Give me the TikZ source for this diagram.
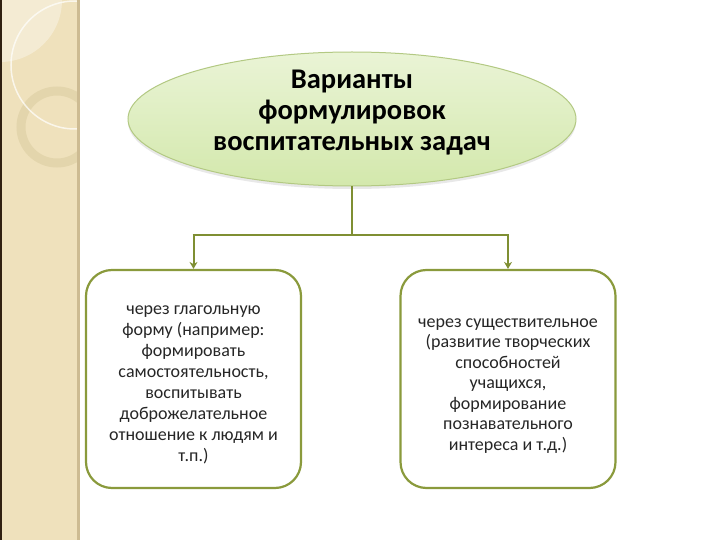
\documentclass[tikz,border=0pt]{standalone}
\usepackage{fontspec}
\setmainfont{Carlito}
\usetikzlibrary{shapes.geometric,arrows.meta,shadows}
\definecolor{strip}{HTML}{EFE1BC}
\definecolor{stripedge}{HTML}{CDBB92}
\definecolor{ringc}{HTML}{E3D5AC}
\definecolor{olive}{HTML}{8A9A3C}
\definecolor{linec}{HTML}{7F8F33}
\definecolor{elltop}{HTML}{EAF4D6}
\definecolor{ellbot}{HTML}{D3E8AC}
\definecolor{ellline}{HTML}{B3C983}
\definecolor{bodytext}{HTML}{262626}
\tikzset{
  titlenode/.style={ellipse, draw=ellline, line width=1pt, top color=elltop, bottom color=ellbot,
    minimum width=448pt, minimum height=134pt, inner sep=0pt,
    drop shadow={opacity=0.18, shadow xshift=0pt, shadow yshift=-3pt}},
  titletext/.style={align=center, inner sep=0pt, font=\fontsize{28.5}{31}\selectfont\bfseries},
  itembox/.style={rectangle, rounded corners=26pt, draw=olive, line width=2.2pt, fill=white,
    minimum width=215pt, minimum height=218pt, inner sep=0pt},
  itemtext/.style={align=center, inner sep=0pt, text=bodytext, font=\fontsize{18}{21}\selectfont},
  conn/.style={draw=linec, line width=2pt},
  arr/.style={conn, -{Stealth[length=7pt,width=8pt]}}
}
\begin{document}
\begin{tikzpicture}[x=1pt,y=-1pt]
\useasboundingbox (0,0) rectangle (720,540);
% left decorative strip
\fill[white] (0,0) rectangle (720,540);
\begin{scope}
\clip (0,0) rectangle (78,540);
\fill[strip] (0,0) rectangle (78,540);
\fill[white, opacity=0.35] (0,0) circle (62);
\draw[ringc, line width=9pt] (57,127) circle (36);
\draw[white, opacity=0.7, line width=1.5pt] (75,65) circle (64);
\end{scope}
\fill[stripedge] (77,0) rectangle (79.5,540);
\fill[black!75!brown] (0,0) rectangle (2,540);
% nodes
\node[titlenode] (top) at (352,119) {};
\node[titletext] (toptext) at (352,113) {Варианты\\формулировок\\воспитательных задач};
\node[itembox] (left) at (193.5,379) {};
\node[itemtext] (lefttext) at (193.5,385) {через глагольную\\форму (например:\\формировать\\самостоятельность,\\воспитывать\\доброжелательное\\отношение к людям и\\т.п.)};
\node[itembox] (right) at (508,379) {};
\node[itemtext, font=\fontsize{18}{20.5}\selectfont] (righttext) at (508,386) {через существительное\\(развитие творческих\\способностей\\учащихся,\\формирование\\познавательного\\интереса и т.д.)};
% connectors
\coordinate (j) at (352,235);
\draw[conn] (top.south) -- (j);
\draw[conn] ([xshift=-1pt]left.north |- j) -- ([xshift=1pt]right.north |- j);
\draw[arr] (left.north |- j) -- (left.north);
\draw[arr] (right.north |- j) -- (right.north);
\end{tikzpicture}
\end{document}
